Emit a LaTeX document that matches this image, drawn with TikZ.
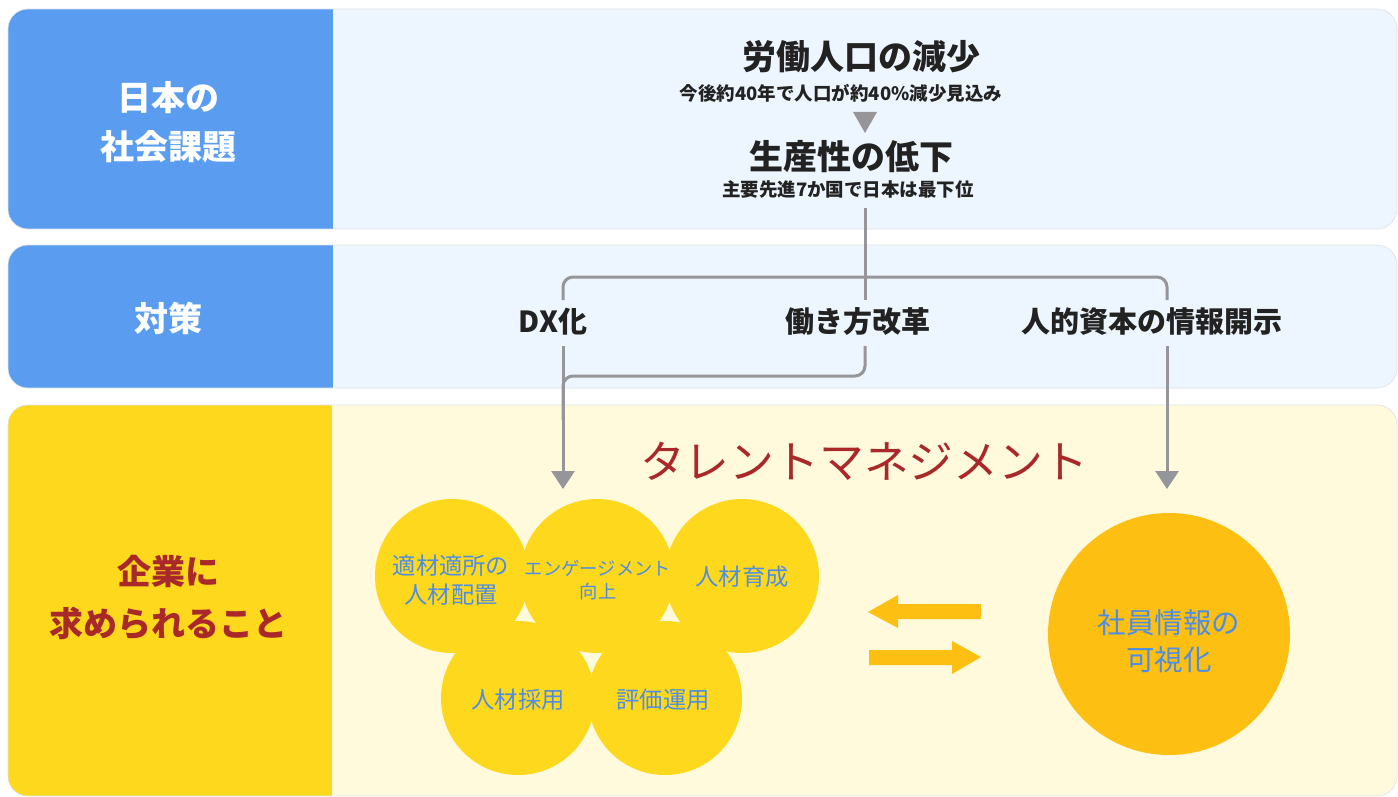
\documentclass[tikz,border=0pt]{standalone}
\usepackage{fontspec}
\setmainfont{Noto Sans CJK JP}
\usetikzlibrary{arrows.meta}
\definecolor{lblue}{HTML}{5A9DF0}
\definecolor{pblue}{HTML}{EDF5FE}
\definecolor{lyel}{HTML}{FDD81C}
\definecolor{pyel}{HTML}{FFFADC}
\definecolor{dred}{HTML}{A9292B}
\definecolor{lgray}{HTML}{95959A}
\definecolor{ctext}{HTML}{4D8DE6}
\definecolor{amber}{HTML}{FDC012}
\definecolor{dtext}{HTML}{222222}
\definecolor{pborder}{HTML}{DDE2E8}
\newcommand\myfs[2]{\fontsize{#1pt}{#2pt}\selectfont}
\begin{document}
\begin{tikzpicture}[x=1pt,y=-1pt,
  every node/.style={inner sep=0pt, outer sep=0pt},
  sidelbl/.style={align=center, font=\myfs{34}{49}\bfseries},
  headtxt/.style={text=dtext, font=\myfs{34}{40}\bfseries},
  subtxt/.style={text=dtext, font=\myfs{18.5}{22}\bfseries},
  midtxt/.style={text=dtext, font=\myfs{29}{34}\bfseries},
  conn/.style={draw=lgray, line width=3pt},
  arr/.style={conn, -{Triangle[width=23pt,length=18pt]}},
  bubble/.style={circle, fill=lyel, minimum size=154pt},
  bubtxt/.style={text=ctext, align=center, font=\myfs{23.3}{29}},
  bigarrow/.style={fill=amber}
]
\useasboundingbox (0,0) rectangle (1398,797);
\fill[white] (0,0) rectangle (1398,797);

% panel 1
\fill[pblue, rounded corners=20pt] (8,9) rectangle (1397,229);
\begin{scope}
  \clip[rounded corners=20pt] (8,9) rectangle (1397,229);
  \fill[lblue] (8,9) rectangle (333,229);
\end{scope}
\draw[pborder, line width=0.6pt, rounded corners=20pt] (8,9) rectangle (1397,229);

% panel 2
\fill[pblue, rounded corners=20pt] (8,245) rectangle (1397,388);
\begin{scope}
  \clip[rounded corners=20pt] (8,245) rectangle (1397,388);
  \fill[lblue] (8,245) rectangle (333,388);
\end{scope}
\draw[pborder, line width=0.6pt, rounded corners=20pt] (8,245) rectangle (1397,388);

% panel 3
\fill[pyel, rounded corners=20pt] (8,405) rectangle (1397,796);
\begin{scope}
  \clip[rounded corners=20pt] (8,405) rectangle (1397,796);
  \fill[lyel] (8,405) rectangle (332,796);
\end{scope}
\draw[pborder, line width=0.6pt, rounded corners=20pt] (8,405) rectangle (1397,796);

% side labels
\node[sidelbl, text=white] (lbl1) at (168,122) {日本の\\社会課題};
\node[sidelbl, text=white] (lbl2) at (168,318) {対策};
\node[sidelbl, text=dred, font=\myfs{34}{52}\bfseries] (lbl3) at (168,598) {企業に\\求められること};

% top panel texts
\node[headtxt] (h1) at (861,57) {労働人口の減少};
\node[subtxt] (s1) at (841,93) {今後約40年で人口が約40\%減少見込み};
\fill[lgray] (853,112) -- (877,112) -- (865,133) -- cycle;
\node[headtxt] (h2) at (851,157) {生産性の低下};
\node[subtxt] (s2) at (848,189) {主要先進7か国で日本は最下位};

% measures
\node[midtxt] (dx) at (553,322) {DX化};
\node[midtxt] (hw) at (858,322) {働き方改革};
\node[midtxt] (jt) at (1152,322) {人的資本の情報開示};

% connector coordinates
\coordinate (topT) at (865,208);
\coordinate (hwT) at (865,300);
\coordinate (dxT) at (563,300);
\coordinate (jtT) at (1167,300);
\coordinate (jL) at (563,277);
\coordinate (jR) at (1167,277);
\coordinate (dxB) at (563,346);
\coordinate (hwB) at (865,346);
\coordinate (jtB) at (1167,346);
\coordinate (hwC) at (865,376);
\coordinate (dxC) at (563,376);
\coordinate (dxD) at (563,420);
\coordinate (arrL) at (563,489);
\coordinate (arrR) at (1167,489);

\draw[conn] (topT) -- (hwT);
\draw[conn, rounded corners=10pt] (dxT) -- (jL) -- (jR) -- (jtT);
\draw[arr] (dxB) -- (arrL);
\draw[conn, rounded corners=10pt] (hwB) -- (hwC) -- (dxC) -- (dxD);
\draw[arr] (jtB) -- (arrR);

% talent management
\node[text=dred, font=\myfs{44.8}{50}] (tm) at (864,461) {タレントマネジメント};

% bubbles
\node[bubble] (c1) at (452,576) {};
\node[bubble] (c2) at (597,576) {};
\node[bubble] (c3) at (742,576) {};
\node[bubble] (c4) at (518,698) {};
\node[bubble] (c5) at (665,698) {};
\node[bubtxt] (t1) at (451,580) {適材適所の\\人材配置};
\node[bubtxt, font=\myfs{18.3}{23}] (t2) at (598,580) {エンゲージメント\\向上};
\node[bubtxt] (t3) at (742,577) {人材育成};
\node[bubtxt] (t4) at (518,700) {人材採用};
\node[bubtxt] (t5) at (663,700) {評価運用};

% exchange arrows
\fill[bigarrow] (868,612) -- (898,595) -- (898,604) -- (981,604) -- (981,619) -- (898,619) -- (898,628) -- cycle;
\fill[bigarrow] (981,657) -- (952,641) -- (952,650) -- (869,650) -- (869,665) -- (952,665) -- (952,674) -- cycle;

% big circle
\node[circle, fill=amber, minimum size=242pt] (big) at (1169,634) {};
\node[text=ctext, align=center, font=\myfs{28.5}{37}] (bigt) at (1169,641) {社員情報の\\可視化};
\end{tikzpicture}
\end{document}
